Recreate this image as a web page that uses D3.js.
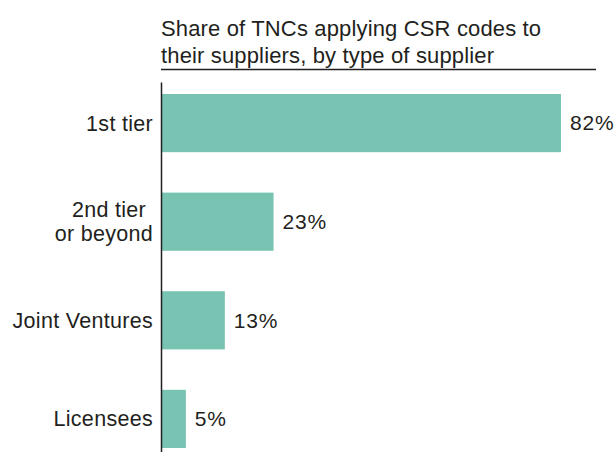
<!DOCTYPE html>
<html>
<head>
<meta charset="utf-8">
<script src="https://cdn.jsdelivr.net/npm/d3@7"></script>
<style>
  body { margin: 0; background: #fff; }
  text { font-family: "Liberation Sans", Arial, Helvetica, sans-serif; fill: #231f20; }
</style>
</head>
<body>
<div id="chart"></div>
<script>
// data
var categories = ["1st tier", "2nd tier|or beyond", "Joint Ventures", "Licensees"];
var shares = [82, 23, 13, 5];
var titleLines = ["Share of TNCs applying CSR codes to", "their suppliers, by type of supplier"];

var width = 616, height = 452;
var axisX = 161.5;

var svg = d3.select('#chart')
    .append('svg')
    .attr('width', width)
    .attr('height', height);

var data = categories.map(function(c, i){ return {name: c, value: shares[i]}; });

var x = d3.scaleLinear().domain([0, 82]).range([axisX, 561]);
var y = d3.scaleBand()
    .domain(categories)
    .range([94, 448])
    .paddingInner(0.41)
    .paddingOuter(0);

// title
svg.append('g')
    .selectAll('text')
    .data(titleLines)
    .enter()
    .append('text')
    .attr('x', 161)
    .attr('y', function(d, i){ return 36 + i * 27; })
    .style('font-size', '22px')
    .style('letter-spacing', '0.15px')
    .text(function(d){ return d; });

svg.append('line')
    .attr('x1', 161).attr('x2', 596)
    .attr('y1', 69.5).attr('y2', 69.5)
    .attr('stroke', '#231f20')
    .attr('stroke-width', 1.5);

// bars
svg.append('g')
    .selectAll('rect')
    .data(data)
    .enter()
    .append('rect')
    .attr('x', x(0))
    .attr('y', function(d){ return y(d.name); })
    .attr('width', function(d){ return x(d.value) - x(0); })
    .attr('height', y.bandwidth())
    .attr('fill', '#79c3b2');

// value labels
svg.append('g')
    .selectAll('text')
    .data(data)
    .enter()
    .append('text')
    .attr('x', function(d){ return x(d.value) + 9; })
    .attr('y', function(d){ return y(d.name) + y.bandwidth() / 2; })
    .attr('dy', '0.35em')
    .style('font-size', '21px')
    .style('letter-spacing', '0.8px')
    .text(function(d){ return d.value + '%'; });

// category labels, split on | for two lines
var cat = svg.append('g')
    .selectAll('text')
    .data(data)
    .enter()
    .append('text')
    .attr('text-anchor', 'end')
    .attr('y', function(d){ return y(d.name) + y.bandwidth() / 2; })
    .style('font-size', '21.5px')
    .style('letter-spacing', '0.3px');

cat.each(function(d){
    var lines = d.name.split('|');
    var t = d3.select(this);
    lines.forEach(function(l, i){
        t.append('tspan')
            .attr('x', i === 0 && lines.length > 1 ? 146 : 153)
            .attr('dy', i === 0 ? ((0.35 - (lines.length - 1) * 0.56) + 'em') : '1.12em')
            .text(l);
    });
});

// vertical axis line
svg.append('line')
    .attr('x1', axisX).attr('x2', axisX)
    .attr('y1', 82.5).attr('y2', height)
    .attr('stroke', '#231f20')
    .attr('stroke-width', 1.5);
</script>
</body>
</html>
